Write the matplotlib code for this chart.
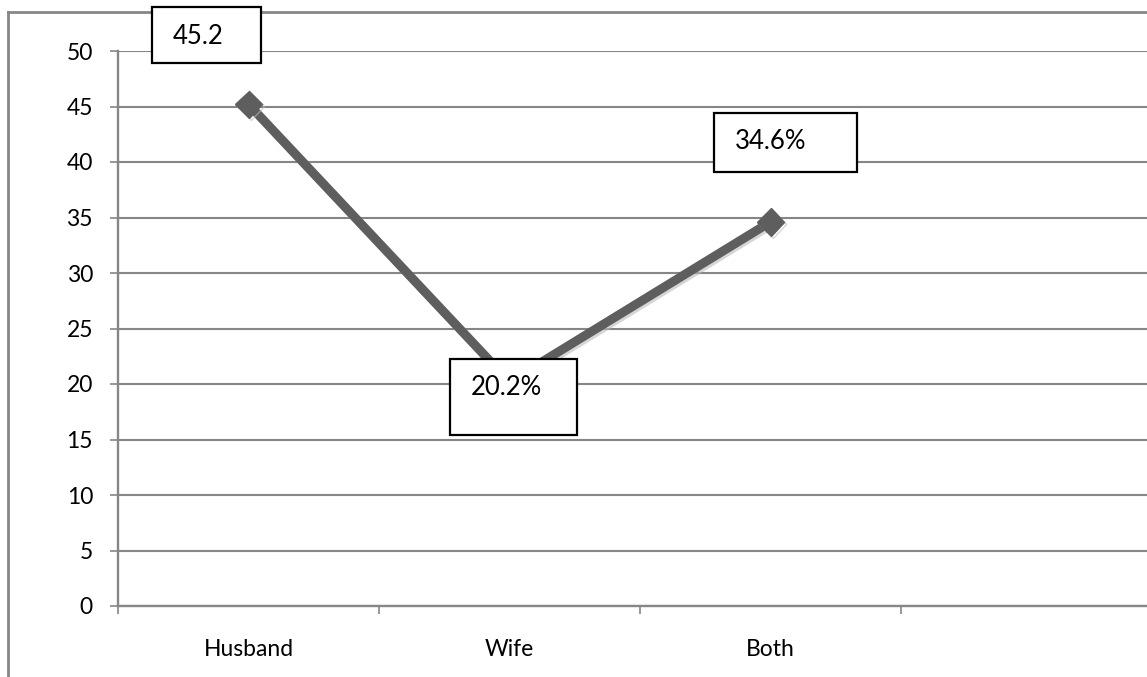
import matplotlib
matplotlib.use("Agg")
import matplotlib.pyplot as plt
from matplotlib.patches import Rectangle
from matplotlib.lines import Line2D
import matplotlib.patheffects as pe

categories = ["Husband", "Wife", "Both"]
values = [45.2, 20.2, 34.6]
point_labels = ["45.2", "20.2%", "34.6%"]
y_ticks = [0, 5, 10, 15, 20, 25, 30, 35, 40, 45, 50]

W, H = 1147, 677
DPI = 100
GRAY = "#868686"
LINE = "#5e5e5e"

plt.rcParams['font.family'] = ['Lato', 'DejaVu Sans']

fig = plt.figure(figsize=(W / DPI, H / DPI), dpi=DPI)
fig.patch.set_facecolor("white")

# axes in pixel layout: x 118..1162, y 51..606 (image coords)
ax = fig.add_axes([118 / W, (H - 606) / H, 1044 / W, 555 / H])
ax.set_xlim(0, 4)
ax.set_ylim(0, 50)

xs = [i + 0.5 for i in range(len(categories))]

ax.set_yticks(y_ticks)
ax.set_yticklabels([str(t) for t in y_ticks])
ax.set_xticks([0, 1, 2, 3, 4])
ax.set_xticklabels([])
ax.set_xticks(xs, minor=True)
ax.set_xticklabels(categories, minor=True)

ax.tick_params(axis="y", which="major", length=6, width=1.2, color=GRAY,
               direction="out", pad=12, labelsize=16.5, labelcolor="black")
ax.tick_params(axis="x", which="major", length=6, width=1.2, color=GRAY,
               direction="out")
ax.tick_params(axis="x", which="minor", length=0, pad=24, labelsize=16.5,
               labelcolor="black")

ax.grid(axis="y", color=GRAY, linewidth=1.5)
ax.set_axisbelow(True)
for s in ["top", "right"]:
    ax.spines[s].set_visible(False)
for s in ["left", "bottom"]:
    ax.spines[s].set_color(GRAY)
    ax.spines[s].set_linewidth(1.7)

ax.plot(xs, values, color=LINE, linewidth=6.5, marker="D", markersize=14,
        markerfacecolor=LINE, markeredgecolor=LINE, solid_capstyle="butt",
        zorder=3,
        path_effects=[pe.SimpleLineShadow(offset=(1.5, -1.5), shadow_color="#bbbbbb", alpha=0.6),
                      pe.Normal()])

# label boxes: (left, right, top, bottom) pixel offsets from the point (image y down)
box_offsets = [(-97, 12, -97, -41), (-60, 67, -23, 53), (-57, 86, -109, -50)]

fig.canvas.draw()
for x, v, lab, (l, r, t, b) in zip(xs, values, point_labels, box_offsets):
    px, py = ax.transData.transform((x, v))
    x0 = px + l
    y_top = py - t
    y_bot = py - b
    rect = Rectangle((x0, y_bot), r - l, y_top - y_bot, transform=None,
                     facecolor="white", edgecolor="black", linewidth=1.6,
                     zorder=5, clip_on=False)
    fig.patches.append(rect)
    fig.text((x0 + 21) / W, (y_top - 29) / H, lab, ha="left", va="center",
             fontsize=18.5, color="black", zorder=6)

# outer chart frame
fig.lines.append(Line2D([8 / W, 8 / W], [0, (H - 12) / H], transform=fig.transFigure,
                        color=GRAY, linewidth=2))
fig.lines.append(Line2D([8 / W, 1.0], [(H - 12) / H, (H - 12) / H],
                        transform=fig.transFigure, color=GRAY, linewidth=2))

fig.savefig("out.png", dpi=DPI, facecolor="white")
